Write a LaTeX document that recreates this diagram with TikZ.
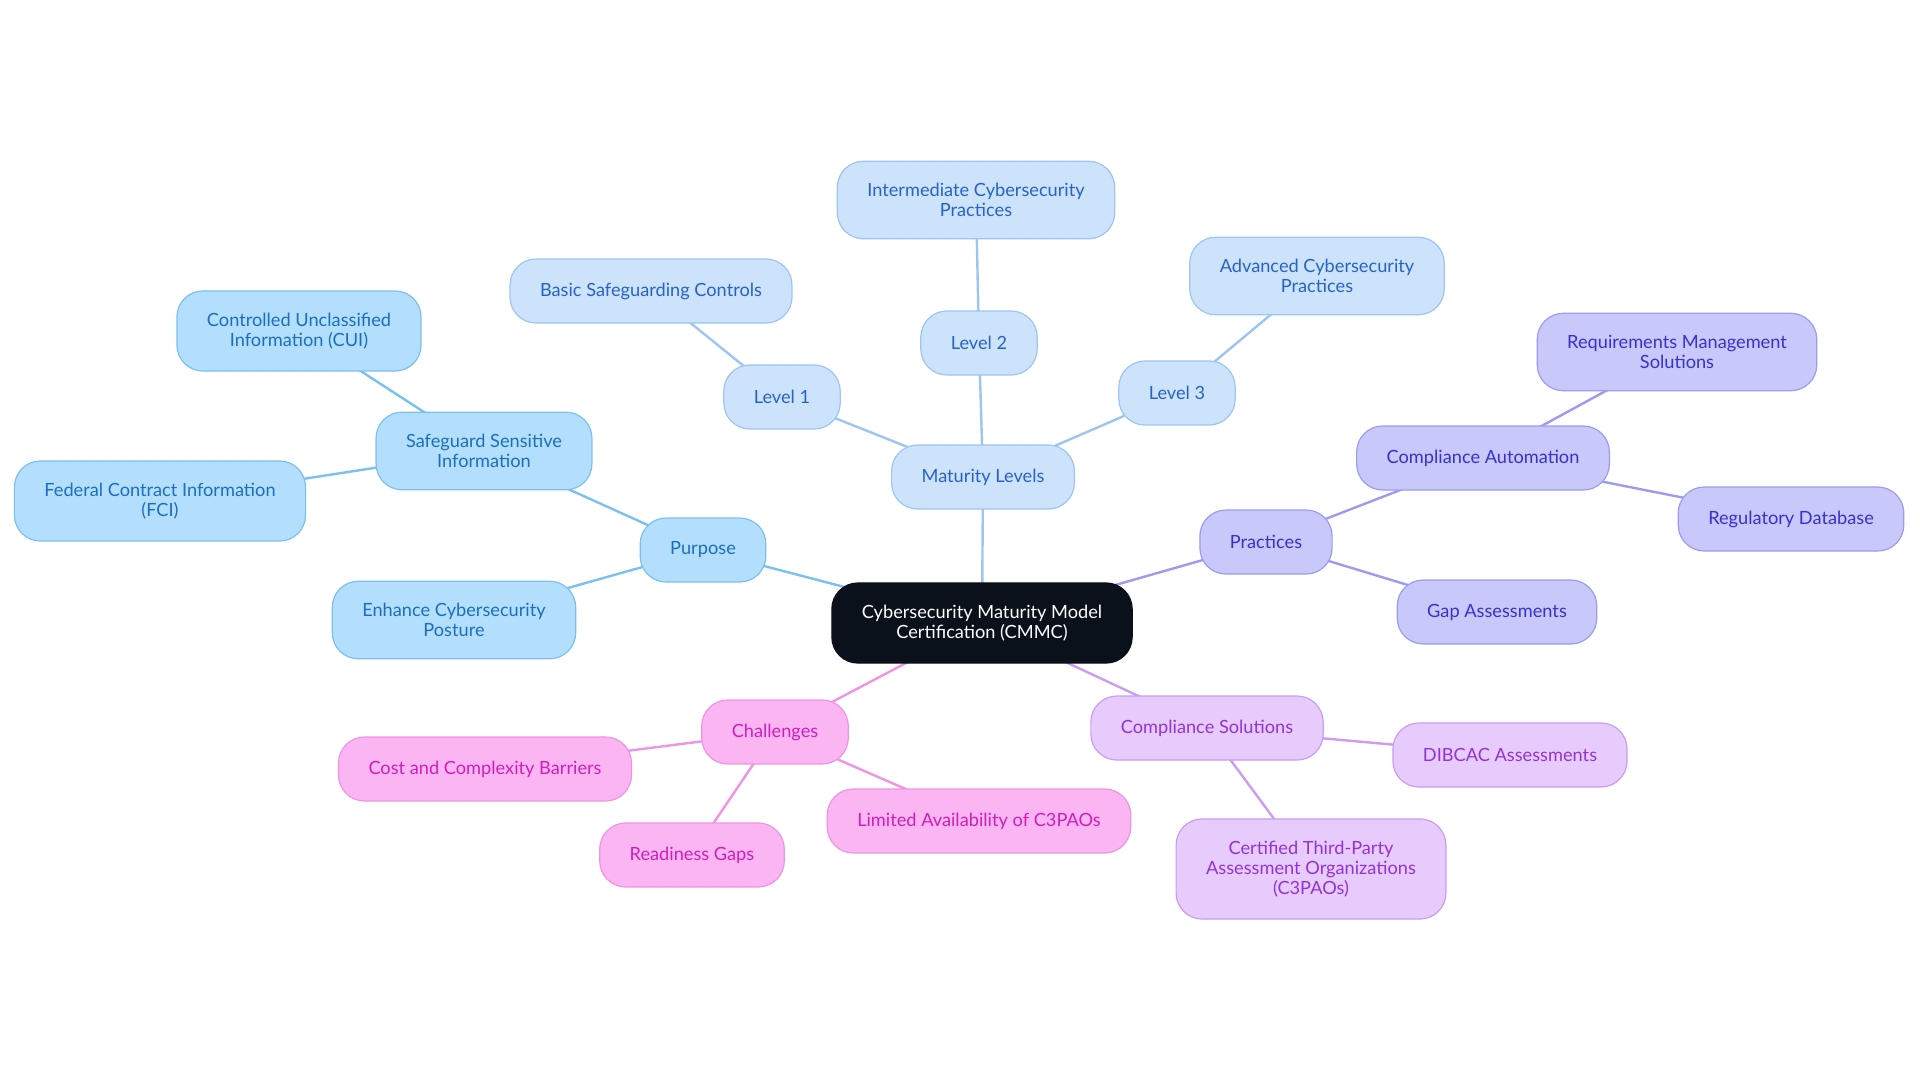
\documentclass[tikz,border=0pt]{standalone}
\usepackage{fontspec}
\setmainfont{Lato}
\usetikzlibrary{backgrounds}

% branch colours
\definecolor{rootfill}{HTML}{0B111B}
\definecolor{purpfill}{HTML}{B3DFFD}
\definecolor{purpline}{HTML}{7CC0F2}
\definecolor{purptext}{HTML}{1B6EC0}
\definecolor{matfill}{HTML}{CDE3FB}
\definecolor{matline}{HTML}{9DC5F3}
\definecolor{mattext}{HTML}{2663C8}
\definecolor{pracfill}{HTML}{C8C8FB}
\definecolor{pracline}{HTML}{9C9BF1}
\definecolor{practext}{HTML}{3731CF}
\definecolor{solfill}{HTML}{E7CBFC}
\definecolor{solline}{HTML}{CB9CF2}
\definecolor{soltext}{HTML}{9333D6}
\definecolor{chalfill}{HTML}{FCB5F3}
\definecolor{challine}{HTML}{EF94E3}
\definecolor{chaltext}{HTML}{CF1FB9}

\tikzset{
  box/.style={draw, rounded corners=13pt, line width=0.6pt, align=center,
    inner xsep=15pt, inner ysep=11pt, minimum height=32pt,
    font=\fontsize{9.1}{10}\selectfont},
  rootbox/.style={box, fill=rootfill, draw=rootfill, text=white},
  purpbox/.style={box, fill=purpfill, draw=purpline, text=purptext},
  matbox/.style={box, fill=matfill, draw=matline, text=mattext},
  pracbox/.style={box, fill=pracfill, draw=pracline, text=practext},
  solbox/.style={box, fill=solfill, draw=solline, text=soltext},
  chalbox/.style={box, fill=chalfill, draw=challine, text=chaltext},
  link/.style={line width=1.2pt}
}

\begin{document}
\begin{tikzpicture}[x=0.5pt,y=-0.5pt]
  \useasboundingbox (0,0) rectangle (1920,1083);

  % Central topic
  \node[rootbox] (cmmc) at (982,623) {Cybersecurity Maturity Model\\Certification (CMMC)};

  % Purpose branch
  \node[purpbox] (purpose) at (703,550) {Purpose};
  \node[purpbox] (safeguard) at (484,451) {Safeguard Sensitive\\Information};
  \node[purpbox] (cui) at (299,331) {Controlled Unclassified\\Information (CUI)};
  \node[purpbox] (fci) at (160,501) {Federal Contract Information\\(FCI)};
  \node[purpbox] (enhance) at (454,620) {Enhance Cybersecurity\\Posture};

  % Maturity levels branch
  \node[matbox] (levels) at (983,477) {Maturity Levels};
  \node[matbox] (lvlone) at (782,397) {Level 1};
  \node[matbox] (basic) at (651,291) {Basic Safeguarding Controls};
  \node[matbox] (lvltwo) at (979,343) {Level 2};
  \node[matbox] (inter) at (976,200) {Intermediate Cybersecurity\\Practices};
  \node[matbox] (lvlthree) at (1177,393) {Level 3};
  \node[matbox] (adv) at (1317,276) {Advanced Cybersecurity\\Practices};

  % Practices branch
  \node[pracbox] (practices) at (1266,542) {Practices};
  \node[pracbox] (autom) at (1483,458) {Compliance Automation};
  \node[pracbox] (reqmgmt) at (1677,352) {Requirements Management\\Solutions};
  \node[pracbox] (regdb) at (1791,519) {Regulatory Database};
  \node[pracbox] (gap) at (1497,612) {Gap Assessments};

  % Compliance solutions branch
  \node[solbox] (solutions) at (1207,728) {Compliance Solutions};
  \node[solbox] (dibcac) at (1510,755) {DIBCAC Assessments};
  \node[solbox] (cthree) at (1311,869) {Certified Third-Party\\Assessment Organizations\\(C3PAOs)};

  % Challenges branch
  \node[chalbox] (challenges) at (775,732) {Challenges};
  \node[chalbox] (cost) at (485,769) {Cost and Complexity Barriers};
  \node[chalbox] (readiness) at (692,855) {Readiness Gaps};
  \node[chalbox] (limited) at (979,821) {Limited Availability of C3PAOs};

  % Connectors behind the boxes
  \begin{scope}[on background layer]
    \draw[link, purpline] (cmmc.center) -- (purpose.center);
    \draw[link, purpline] (purpose.center) -- (safeguard.center);
    \draw[link, purpline] (purpose.center) -- (enhance.center);
    \draw[link, purpline] (safeguard.center) -- (cui.center);
    \draw[link, purpline] (safeguard.center) -- (fci.center);

    \draw[link, matline] (cmmc.center) -- (levels.center);
    \draw[link, matline] (levels.center) -- (lvlone.center);
    \draw[link, matline] (levels.center) -- (lvltwo.center);
    \draw[link, matline] (levels.center) -- (lvlthree.center);
    \draw[link, matline] (lvlone.center) -- (basic.center);
    \draw[link, matline] (lvltwo.center) -- (inter.center);
    \draw[link, matline] (lvlthree.center) -- (adv.center);

    \draw[link, pracline] (cmmc.center) -- (practices.center);
    \draw[link, pracline] (practices.center) -- (autom.center);
    \draw[link, pracline] (practices.center) -- (gap.center);
    \draw[link, pracline] (autom.center) -- (reqmgmt.center);
    \draw[link, pracline] (autom.center) -- (regdb.center);

    \draw[link, solline] (cmmc.center) -- (solutions.center);
    \draw[link, solline] (solutions.center) -- (dibcac.center);
    \draw[link, solline] (solutions.center) -- (cthree.center);

    \draw[link, challine] (cmmc.center) -- (challenges.center);
    \draw[link, challine] (challenges.center) -- (cost.center);
    \draw[link, challine] (challenges.center) -- (readiness.center);
    \draw[link, challine] (challenges.center) -- (limited.center);
  \end{scope}
\end{tikzpicture}
\end{document}
